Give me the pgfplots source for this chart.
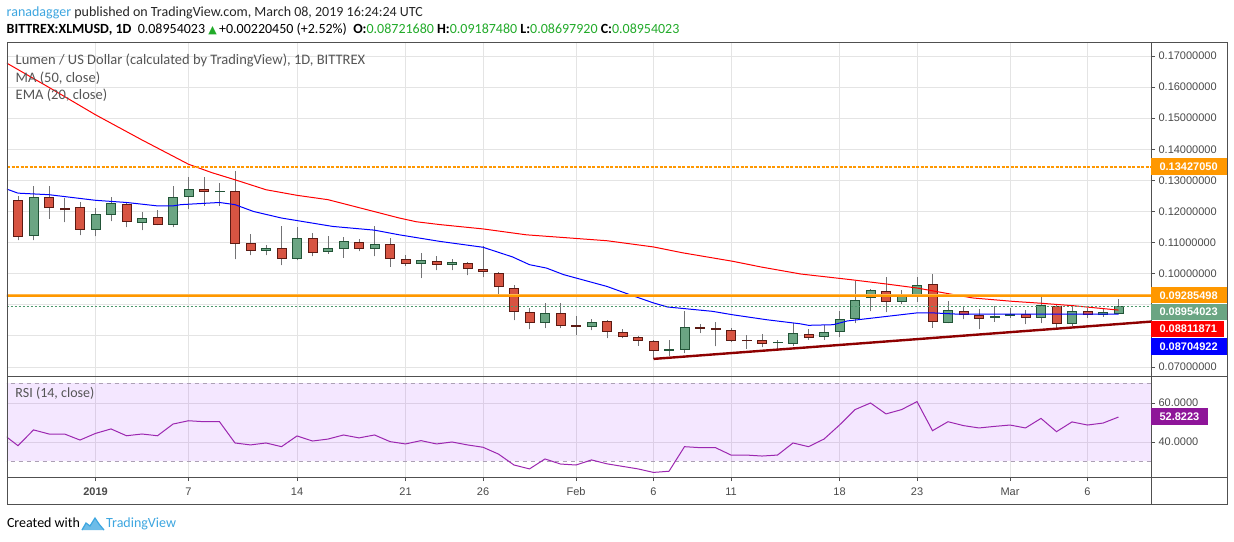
\documentclass[border=0pt]{standalone}
\usepackage{fontspec}
\setmainfont{Carlito}
\newfontfamily\axf{Liberation Sans}
\newfontfamily\symf{DejaVu Sans}
\usepackage{pgfplots}
\pgfplotsset{compat=1.18}
\usepackage{pgfplotstable}

\definecolor{upfill}{HTML}{6BA583}
\definecolor{upbord}{HTML}{225437}
\definecolor{dnfill}{HTML}{D75442}
\definecolor{dnbord}{HTML}{5B1A13}
\definecolor{wickc}{HTML}{737375}
\definecolor{gridc}{HTML}{E4E4E4}
\definecolor{framec}{HTML}{505050}
\definecolor{labc}{HTML}{4A4A4A}
\definecolor{tvorange}{HTML}{FF9800}
\definecolor{lastgreen}{HTML}{4E9A6E}
\definecolor{rsic}{HTML}{8E1599}
\definecolor{rsiline}{HTML}{9C27B0}
\definecolor{bandc}{HTML}{9915FF}
\definecolor{banddash}{HTML}{ACA0B4}
\definecolor{trendc}{HTML}{8E0000}
\definecolor{tvblue}{HTML}{3DA6E0}
\definecolor{hdrgreen}{HTML}{22AB2A}
\definecolor{leggray}{HTML}{555555}

% day index: 0 = 1 Jan 2019
\pgfplotstableread{
d o h l c
-4 0.1121 0.1283 0.1107 0.1247
0 0.1141 0.1211 0.1120 0.1192
1 0.1189 0.1247 0.1168 0.1227
3 0.1163 0.1199 0.1139 0.1179
5 0.1157 0.1283 0.1149 0.1247
6 0.1247 0.1312 0.1208 0.1272
11 0.1073 0.1093 0.1059 0.1083
13 0.1047 0.1149 0.1043 0.1115
15 0.1070 0.1122 0.1064 0.1083
16 0.1079 0.1119 0.1052 0.1105
18 0.1079 0.1154 0.1056 0.1095
21 0.1031 0.1068 0.0986 0.1044
23 0.1028 0.1048 0.1011 0.1038
29 0.0841 0.0906 0.0825 0.0874
32 0.0829 0.0855 0.0818 0.0845
38 0.0755 0.0881 0.0745 0.0829
45 0.0774 0.0841 0.0769 0.0809
47 0.0796 0.0835 0.0787 0.0813
48 0.0813 0.0881 0.0796 0.0854
49 0.0854 0.0977 0.0841 0.0915
50 0.0922 0.0952 0.0879 0.0946
52 0.0909 0.0949 0.0903 0.0928
53 0.0925 0.0990 0.0910 0.0964
55 0.0841 0.0913 0.0841 0.0883
61 0.0858 0.0932 0.0841 0.0899
63 0.0838 0.0895 0.0831 0.0880
65 0.0867 0.0886 0.0861 0.0877
66 0.0872 0.0919 0.0870 0.0895
}\upc
\pgfplotstableread{
d o h l c
8 0.1262 0.1293 0.1218 0.1266
37 0.0752 0.0786 0.0736 0.0758
44 0.0776 0.0788 0.0759 0.0780
58 0.0858 0.0895 0.0845 0.0864
59 0.0864 0.0890 0.0858 0.0870
}\updoji
\pgfplotstableread{
d o h l c
-5 0.1237 0.1249 0.1107 0.1118
-3 0.1247 0.1283 0.1177 0.1211
-1 0.1214 0.1231 0.1123 0.1141
2 0.1224 0.1231 0.1149 0.1166
4 0.1182 0.1206 0.1155 0.1157
7 0.1272 0.1312 0.1218 0.1263
9 0.1266 0.1329 0.1046 0.1095
10 0.1099 0.1129 0.1059 0.1074
12 0.1083 0.1154 0.1027 0.1047
14 0.1115 0.1132 0.1056 0.1067
17 0.1102 0.1113 0.1072 0.1079
19 0.1095 0.1116 0.1023 0.1047
20 0.1047 0.1061 0.1025 0.1031
22 0.1041 0.1058 0.1011 0.1028
24 0.1034 0.1038 0.0995 0.1015
25 0.1015 0.1089 0.0988 0.1005
26 0.1002 0.1007 0.0930 0.0957
27 0.0954 0.0964 0.0850 0.0877
28 0.0876 0.0890 0.0821 0.0841
30 0.0874 0.0906 0.0825 0.0832
33 0.0848 0.0851 0.0792 0.0813
34 0.0813 0.0822 0.0792 0.0796
35 0.0796 0.0801 0.0769 0.0784
36 0.0784 0.0788 0.0726 0.0751
41 0.0819 0.0825 0.0779 0.0784
43 0.0787 0.0806 0.0763 0.0774
46 0.0806 0.0822 0.0787 0.0793
51 0.0944 0.0990 0.0876 0.0909
54 0.0967 0.1000 0.0827 0.0846
56 0.0880 0.0895 0.0853 0.0867
57 0.0867 0.0886 0.0821 0.0854
60 0.0870 0.0883 0.0838 0.0858
62 0.0896 0.0903 0.0821 0.0838
64 0.0880 0.0890 0.0858 0.0867
}\dnc
\pgfplotstableread{
d o h l c
-2 0.1210 0.1243 0.1165 0.1204
31 0.0835 0.0865 0.0802 0.0829
39 0.0829 0.0839 0.0809 0.0823
40 0.0825 0.0845 0.0766 0.0819
42 0.0786 0.0803 0.0759 0.0782
}\dndoji

\pgfplotsset{
  nomark/.style={only marks, mark=none, mark size=0pt, mark options={draw=none, fill=none}},
  wickplot/.style={nomark, error bars/.cd, y dir=plus, y explicit, error mark=none,
     error bar style={draw=wickc, line width=1pt}},
  bodyplot/.style={nomark, error bars/.cd, y dir=plus, y explicit, error mark=none,
     error bar style={draw=#1, line width=10pt}},
  fillplot/.style={nomark, error bars/.cd, y dir=plus, y explicit, error mark=none,
     error bar style={draw=#1, line width=8pt}},
}

\begin{document}
\begin{tikzpicture}[x=1pt,y=1pt]
\useasboundingbox (0,0) rectangle (1234,541);
\fill[white] (0,0) rectangle (1234,541);

% ---------------- main price panel ----------------
\begin{axis}[
  at={(7pt,164pt)}, anchor=south west, width=1144pt, height=334pt, scale only axis,
  xmin=-5.71, xmax=68.1, ymin=0.066785, ymax=0.17418,
  axis line style={draw=none},
  xtick={0,6,13,20,25,31,36,41,48,53,59,64}, xticklabels={}, xtick style={draw=none},
  ytick={0.07,0.08,0.09,0.10,0.11,0.12,0.13,0.14,0.15,0.16,0.17},
  yticklabels={0.07000000,,,0.10000000,0.11000000,0.12000000,0.13000000,0.14000000,0.15000000,0.16000000,0.17000000},
  ytick pos=right, yticklabel pos=right, tick align=outside, major tick length=4pt,
  ytick style={draw=framec, line width=0.8pt},
  yticklabel style={font=\axf\fontsize{11}{13}\selectfont, text=labc},
  grid=major, grid style={draw=gridc, line width=0.8pt},
]
% wicks
\addplot[wickplot] table[x=d, y=l, y error plus expr=\thisrow{h}-\thisrow{l}] {\upc};
\addplot[wickplot] table[x=d, y=l, y error plus expr=\thisrow{h}-\thisrow{l}] {\dnc};
\addplot[wickplot] table[x=d, y=l, y error plus expr=\thisrow{h}-\thisrow{l}] {\updoji};
\addplot[wickplot] table[x=d, y=l, y error plus expr=\thisrow{h}-\thisrow{l}] {\dndoji};
% bodies
\addplot[bodyplot=upbord] table[x=d, y=o, y error plus expr=\thisrow{c}-\thisrow{o}] {\upc};
\addplot[fillplot=upfill] table[x=d, y expr=\thisrow{o}+0.000322, y error plus expr=\thisrow{c}-\thisrow{o}-0.000644] {\upc};
\addplot[bodyplot=dnbord] table[x=d, y=c, y error plus expr=\thisrow{o}-\thisrow{c}] {\dnc};
\addplot[fillplot=dnfill] table[x=d, y expr=\thisrow{c}+0.000322, y error plus expr=\thisrow{o}-\thisrow{c}-0.000644] {\dnc};
\addplot[bodyplot=upbord] table[x=d, y=o, y error plus expr=\thisrow{c}-\thisrow{o}] {\updoji};
\addplot[bodyplot=dnbord] table[x=d, y=c, y error plus expr=\thisrow{o}-\thisrow{c}] {\dndoji};

% MA 50
\addplot[color=red, line width=1pt] coordinates {
(-6,0.1685) (-3,0.1599) (0,0.1511) (3,0.1430) (6,0.1352) (7.5,0.1325) (9,0.1302) (11,0.1270)
(13,0.1252) (15,0.1238) (17.5,0.1206) (19.6,0.1179) (20.7,0.1167) (22.2,0.1158) (25,0.1144)
(27.8,0.1125) (30,0.1117) (33,0.1106) (36,0.1086) (37.9,0.1067) (41.1,0.1040) (43,0.1021)
(45.5,0.0999) (48.7,0.0981) (51,0.0967) (53,0.0954) (55,0.0936) (56.6,0.0922) (59.2,0.0911)
(61,0.0905) (63.1,0.0897) (66,0.0883)};
% EMA 20
\addplot[color=blue, line width=1pt] coordinates {
(-6,0.1277) (-5,0.1259) (-3,0.1254) (0,0.1236) (2,0.1229) (4,0.1218) (5,0.1218) (5.5,0.1222)
(8,0.1229) (9,0.1222) (10.2,0.1200) (12,0.1179) (15.3,0.1152) (18,0.1140) (19.6,0.1125)
(22.2,0.1104) (25,0.1085) (26.9,0.1054) (28,0.1029) (29.1,0.1018) (30.2,0.0997) (33,0.0959)
(34.5,0.0932) (36,0.0906) (36.9,0.0893) (39.8,0.0879) (41.1,0.0868) (43.3,0.0852) (45.45,0.0839)
(46,0.0834) (47.6,0.0836) (48.5,0.0848) (53,0.0874) (54,0.0874) (55.6,0.0870) (63.1,0.0870) (66,0.0870)};

% drawings
\addplot[color=tvorange, line width=2pt, dash pattern=on 3pt off 1.5pt] coordinates {(-6,0.1342705) (69,0.1342705)};
\addplot[color=tvorange!70, line width=3pt] coordinates {(-6,0.09285498) (69,0.09285498)};
\addplot[color=tvorange, line width=1.6pt] coordinates {(-6,0.09285498) (69,0.09285498)};
\addplot[color=lastgreen, line width=0.8pt, dash pattern=on 2pt off 2pt] coordinates {(-6,0.08954023) (69,0.08954023)};
\addplot[color=trendc, line width=2.4pt] coordinates {(36,0.0726) (68.1,0.0846)};
\end{axis}

% ---------------- RSI panel ----------------
\begin{axis}[
  at={(7pt,64pt)}, anchor=south west, width=1144pt, height=100pt, scale only axis,
  xmin=-5.71, xmax=68.1, ymin=22.05, ymax=73.33,
  axis line style={draw=none},
  xtick={0,6,13,20,25,31,36,41,48,53,59,64},
  xticklabels={\bfseries 2019,7,14,21,26,Feb,6,11,18,23,Mar,6},
  xtick pos=left, ytick={40,60}, yticklabels={40.0000,60.0000},
  ytick pos=right, yticklabel pos=right,
  tick align=outside, major tick length=4pt,
  tick style={draw=framec, line width=0.8pt},
  xticklabel style={font=\axf\fontsize{11}{13}\selectfont, text=labc, anchor=base, yshift=-15pt},
  yticklabel style={font=\axf\fontsize{11}{13}\selectfont, text=labc},
  grid=major, grid style={draw=gridc, line width=0.8pt},
]
\addplot[draw=none, fill=bandc, fill opacity=0.1] coordinates {(-6,30) (69,30) (69,70) (-6,70)};
\addplot[color=banddash, line width=0.8pt, dash pattern=on 4pt off 4pt] coordinates {(-6,70) (69,70)};
\addplot[color=banddash, line width=0.8pt, dash pattern=on 4pt off 4pt] coordinates {(-6,30) (69,30)};
\addplot[color=rsiline, line width=1pt] coordinates {
(-6,44.2) (-5,38.1) (-4,46.2) (-3,44.1) (-2,44.1) (-1,41.0) (0,44.4) (1,46.7) (2,43.2) (3,44.1)
(4,43.2) (5,49.2) (6,50.9) (7,50.4) (8,50.4) (9,39.5) (10,38.5) (11,39.5) (12,37.6) (13,43.1)
(14,40.5) (15,41.5) (16,43.6) (17,42.1) (18,43.6) (19,40.2) (20,39.0) (21,40.7) (22,39.0) (23,40.0)
(24,38.5) (25,37.3) (26,33.8) (27,28.2) (28,26.2) (29,31.3) (30,28.7) (31,28.2) (32,30.8) (33,28.8)
(34,27.5) (35,26.2) (36,24.4) (37,25.0) (38,37.6) (39,37.1) (40,37.1) (41,33.3) (42,33.3) (43,32.8)
(44,33.3) (45,39.5) (46,37.6) (47,41.5) (48,48.7) (49,56.6) (50,60.0) (51,54.4) (52,56.6) (53,60.7)
(54,45.8) (55,50.4) (56,48.4) (57,47.2) (58,48.0) (59,48.7) (60,47.2) (61,52.1) (62,45.3) (63,50.3)
(64,48.7) (65,49.7) (66,52.8)};
\end{axis}

% ---------------- frame ----------------
\draw[framec, line width=1pt] (7,37) rectangle (1227,498);
\draw[framec, line width=1pt] (7,164) -- (1227,164);
\draw[framec, line width=1pt] (7,64) -- (1227,64);
\draw[framec, line width=1pt] (1151,37) -- (1151,498);

% ---------------- price labels ----------------
\fill[tvorange] (1151,366) rectangle (1227,383);
\node[anchor=west, text=white, font=\axf\bfseries\fontsize{11}{13}\selectfont] at (1156,374.6) {0.13427050};
\fill[tvorange] (1151,237.5) rectangle (1227,253.8);
\node[anchor=west, text=white, font=\axf\bfseries\fontsize{11}{13}\selectfont] at (1156,245.6) {0.09285498};
\fill[upfill] (1151,220.8) rectangle (1227,237);
\node[anchor=west, text=white, font=\axf\bfseries\fontsize{11}{13}\selectfont] at (1156,228.9) {0.08954023};
\fill[red] (1151,203.7) rectangle (1224,220);
\node[anchor=west, text=white, font=\axf\bfseries\fontsize{11}{13}\selectfont] at (1156,211.9) {0.08811871};
\fill[blue] (1151,186.3) rectangle (1227,203);
\node[anchor=west, text=white, font=\axf\bfseries\fontsize{11}{13}\selectfont] at (1156,194.7) {0.08704922};
\fill[rsic] (1151,116.3) rectangle (1208,133);
\node[anchor=west, text=white, font=\axf\bfseries\fontsize{11}{13}\selectfont] at (1156,124.7) {52.8223};

% ---------------- legend texts ----------------
\node[anchor=base west, inner sep=0, text=leggray, font=\fontsize{14.5}{16}\selectfont] at (15.5,476) {Lumen / US Dollar (calculated by TradingView), 1D, BITTREX};
\node[anchor=base west, inner sep=0, text=leggray, font=\fontsize{14.5}{16}\selectfont] at (15.5,458.5) {MA (50, close)};
\node[anchor=base west, inner sep=0, text=leggray, font=\fontsize{14.5}{16}\selectfont] at (15.5,441.5) {EMA (20, close)};
\node[anchor=base west, inner sep=0, text=leggray, font=\fontsize{14}{16}\selectfont] at (15.3,143.3) {RSI (14, close)};

% ---------------- header ----------------
\node[anchor=base west, inner sep=0, font=\fontsize{14}{16}\selectfont] at (6.5,524.3)
  {\textcolor{tvblue}{ranadagger} \textcolor{black!85}{published on TradingView.com, March 08, 2019 16:24:24 UTC}};
\node[anchor=base west, inner sep=0, font=\fontsize{14}{16}\selectfont] at (6.5,507.7)
  {\textbf{BITTREX:XLMUSD, 1D}\ \ 0.08954023 \textcolor{hdrgreen}{\symf\fontsize{11}{13}\selectfont ▲}\,+0.00220450 (+2.52\%) \ \textbf{O:}\textcolor{hdrgreen}{0.08721680} \textbf{H:}\textcolor{hdrgreen}{0.09187480} \textbf{L:}\textcolor{hdrgreen}{0.08697920} \textbf{C:}\textcolor{hdrgreen}{0.08954023}};

% ---------------- footer ----------------
\node[anchor=base west, inner sep=0, font=\fontsize{14}{16}\selectfont] at (6.8,13.3) {Created with};
\fill[tvblue!75] (82,11) -- (86,18) -- (90,15) -- (95,23) -- (99,17) -- (104,11) -- cycle;
\draw[tvblue, line width=1.2pt] (82,11) -- (86,18) -- (90,15) -- (95,23) -- (99,17) -- (104,11);
\node[anchor=base west, inner sep=0, text=tvblue, font=\fontsize{14}{16}\selectfont] at (106,13.3) {TradingView};
\end{tikzpicture}
\end{document}
